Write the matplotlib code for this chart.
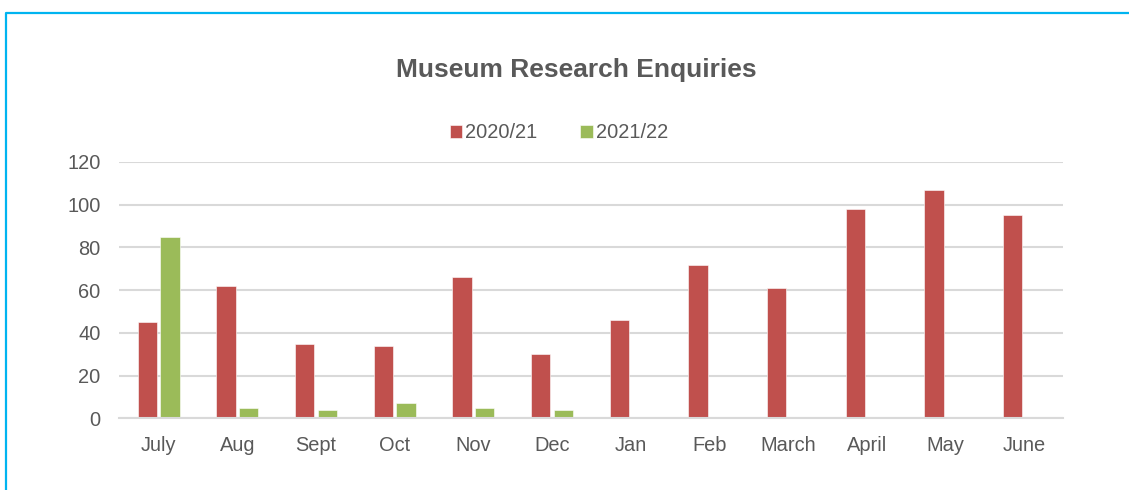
import numpy as np
import matplotlib
matplotlib.use('Agg')
import matplotlib.pyplot as plt
from matplotlib.lines import Line2D

plt.rcParams['font.family'] = ['Liberation Sans', 'DejaVu Sans']

# data
months = ['July', 'Aug', 'Sept', 'Oct', 'Nov', 'Dec',
          'Jan', 'Feb', 'March', 'April', 'May', 'June']
enq_2020 = [45, 62, 35, 34, 66, 30, 46, 72, 61, 98, 107, 95]
enq_2021 = [85, 5, 4, 7, 5, 4, np.nan, np.nan, np.nan, np.nan, np.nan, np.nan]
series_names = ['2020/21', '2021/22']

red = '#C0504D'
green = '#9BBB59'
txt = '#595959'
grid = '#D9D9D9'

fig = plt.figure(figsize=(11.29, 4.90), dpi=100)
ax = fig.add_axes([0.1057, 0.1463, 0.9418 - 0.1057, 0.6694 - 0.1463])

index = np.arange(len(months))
bar_width = 0.245
off = 0.144

ax.bar(index - off, enq_2020, bar_width, color=red, label=series_names[0],
       edgecolor='white', linewidth=0.4)
ax.bar(index + off, enq_2021, bar_width, color=green, label=series_names[1],
       edgecolor='white', linewidth=0.4)

ax.set_xlim(-0.5, len(months) - 0.5)
ax.set_ylim(0, 120)
ax.set_yticks(np.arange(0, 121, 20))
ax.set_xticks(index)
ax.set_xticklabels(months)
ax.tick_params(axis='both', length=0, labelsize=14.4, colors=txt)
ax.tick_params(axis='y', pad=13.4)
ax.tick_params(axis='x', pad=12.5)

ax.yaxis.grid(True, color=grid, linewidth=1.5)
ax.set_axisbelow(True)
for s in ['top', 'right', 'left']:
    ax.spines[s].set_visible(False)
ax.spines['bottom'].set_color(grid)
ax.spines['bottom'].set_linewidth(1.5)

fig.text(0.5107, 1 - 76.5 / 490, 'Museum Research Enquiries', ha='center',
         va='baseline', fontsize=19, fontweight='bold', color=txt)

fig.legend(loc='center', bbox_to_anchor=(0.4949, 0.7286), ncol=2,
           frameon=False, fontsize=14.4, labelcolor=txt, borderpad=0,
           handlelength=0.63, handleheight=0.6, handletextpad=0.13,
           columnspacing=2.17)

# outer chart border (only top and left visible)
bx = 6 / 1129
by = 1 - 12.8 / 490
fig.add_artist(Line2D([bx, bx, 1.01], [-0.01, by, by], transform=fig.transFigure,
                      color='#00B4F0', linewidth=1.6))

fig.savefig('out.png', dpi=100)
